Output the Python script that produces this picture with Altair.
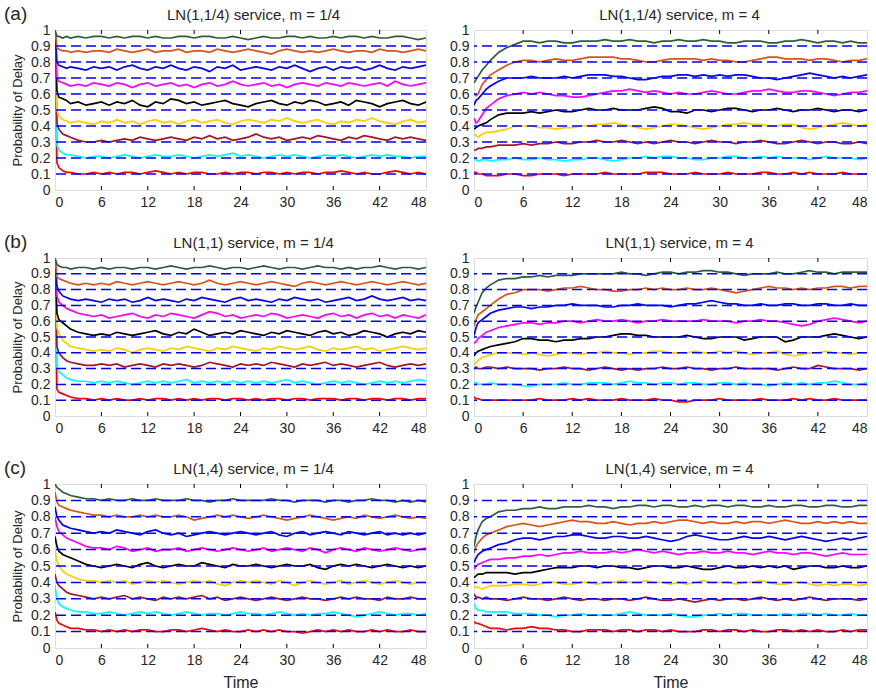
import altair as alt
import pandas as pd

# Sampling times in hours: finer near the start, hourly afterwards
TIME = [0, 0.25, 0.5, 1, 1.5, 2, 3, 4, 5] + list(range(6, 49))

# Target delay probabilities (dashed reference lines) and the colour of each trace
LEVELS = [0.1, 0.2, 0.3, 0.4, 0.5, 0.6, 0.7, 0.8, 0.9]
KEYS = ["0.1", "0.2", "0.3", "0.4", "0.5", "0.6", "0.7", "0.8", "0.9"]
COLORS = ["#FF0000", "#00FFFF", "#A2142F", "#FFCC00", "#000000",
          "#FF00FF", "#0000FF", "#D95319", "#2B5D3A"]

X_TICKS = [0, 6, 12, 18, 24, 30, 36, 42, 48]
Y_TICKS = [0, 0.1, 0.2, 0.3, 0.4, 0.5, 0.6, 0.7, 0.8, 0.9, 1]

# Simulated probability of delay (in percent) for each target level
A_LOW = {
    "0.9": [100, 96, 96, 95, 96, 95, 96, 95, 96,
            96, 95, 96, 95, 96, 96, 95, 96, 95, 95,
            96, 96, 95, 96, 96, 95, 95, 96, 95, 94,
            95, 96, 95, 95, 96, 96, 95, 96, 95, 95,
            96, 95, 96, 96, 95, 96, 95, 95, 96, 96,
            95, 94, 95],
    "0.8": [100, 89, 88, 87, 87, 86, 87, 86, 87,
            87, 86, 88, 87, 86, 87, 88, 86, 87, 87,
            88, 86, 87, 87, 86, 88, 87, 86, 87, 88,
            87, 86, 85, 87, 88, 87, 86, 87, 86, 87,
            88, 87, 86, 87, 87, 86, 88, 87, 87, 86,
            87, 88, 87],
    "0.7": [100, 80, 78, 77, 76, 77, 76, 75, 77,
            76, 77, 75, 77, 78, 76, 75, 77, 76, 78,
            76, 75, 77, 76, 74, 77, 76, 78, 75, 76,
            77, 76, 75, 77, 76, 78, 76, 74, 76, 77,
            75, 77, 76, 77, 75, 76, 78, 76, 75, 77,
            76, 77, 78],
    "0.6": [100, 70, 68, 67, 66, 65, 66, 65, 67,
            66, 65, 67, 66, 64, 66, 67, 65, 66, 67,
            65, 66, 64, 66, 67, 65, 66, 68, 66, 65,
            66, 67, 65, 66, 64, 66, 67, 66, 65, 67,
            66, 65, 67, 66, 65, 66, 67, 65, 68, 66,
            65, 66, 67],
    "0.5": [100, 62, 58, 57, 56, 54, 55, 53, 54,
            55, 53, 55, 54, 56, 53, 52, 55, 54, 57,
            56, 54, 55, 53, 54, 55, 56, 54, 53, 52,
            54, 55, 56, 54, 53, 55, 54, 56, 55, 53,
            54, 55, 53, 56, 55, 54, 52, 54, 55, 56,
            54, 53, 55],
    "0.4": [100, 50, 46, 44, 43, 42, 43, 42, 41,
            43, 42, 44, 42, 43, 41, 43, 44, 42, 43,
            41, 43, 44, 42, 43, 44, 42, 41, 43, 44,
            43, 42, 44, 43, 45, 43, 42, 43, 44, 42,
            41, 43, 42, 44, 43, 45, 43, 42, 41, 43,
            44, 42, 43],
    "0.3": [100, 42, 38, 35, 34, 33, 31, 30, 30,
            31, 30, 31, 32, 31, 33, 32, 31, 32, 33,
            32, 31, 33, 32, 34, 32, 33, 31, 32, 33,
            35, 33, 32, 33, 31, 32, 33, 32, 34, 33,
            32, 31, 33, 32, 34, 33, 32, 31, 33, 32,
            33, 32, 31],
    "0.2": [100, 28, 25, 23, 22, 22, 21, 20, 21,
            21, 20, 21, 22, 21, 20, 21, 22, 21, 21,
            22, 21, 20, 21, 22, 21, 22, 23, 21, 22,
            21, 20, 21, 22, 21, 22, 21, 20, 21, 22,
            21, 22, 21, 20, 21, 22, 21, 22, 21, 21,
            20, 21, 21],
    "0.1": [100, 17, 14, 12, 11, 11, 10, 10, 11,
            10, 11, 10, 11, 11, 10, 11, 12, 11, 10,
            11, 10, 11, 11, 10, 10, 11, 10, 11, 11,
            10, 11, 11, 10, 11, 10, 11, 11, 10, 11,
            11, 12, 11, 10, 11, 10, 10, 11, 12, 11,
            10, 11, 10],
}

A_HIGH = {
    "0.9": [67, 69, 71, 75, 78, 81, 86, 89, 91,
            93, 93, 92, 93, 93, 92, 92, 93, 93, 93,
            94, 93, 93, 94, 93, 93, 92, 93, 93, 94,
            93, 93, 94, 93, 93, 92, 92, 93, 93, 93,
            92, 92, 93, 93, 94, 93, 92, 93, 93, 92,
            93, 92, 92],
    "0.8": [60, 59, 60, 66, 69, 72, 75, 78, 80,
            81, 81, 80, 81, 82, 81, 81, 82, 83, 83,
            83, 83, 82, 82, 81, 80, 80, 81, 82, 82,
            82, 82, 81, 82, 81, 81, 80, 80, 81, 82,
            83, 83, 82, 82, 82, 81, 82, 82, 81, 80,
            81, 81, 82],
    "0.7": [53, 56, 57, 60, 63, 65, 68, 70, 70,
            70, 71, 70, 70, 70, 71, 70, 71, 72, 72,
            72, 71, 71, 70, 69, 69, 70, 71, 71, 72,
            72, 71, 72, 71, 72, 71, 72, 72, 71, 70,
            70, 69, 70, 71, 72, 73, 72, 71, 70, 71,
            70, 71, 72],
    "0.6": [45, 42, 43, 47, 51, 53, 57, 59, 60,
            61, 60, 61, 60, 59, 59, 58, 58, 59, 60,
            61, 62, 62, 63, 62, 61, 62, 61, 60, 61,
            60, 60, 61, 62, 61, 60, 60, 61, 62, 62,
            63, 62, 61, 61, 62, 62, 61, 60, 59, 60,
            61, 61, 62],
    "0.5": [38, 39, 40, 41, 42, 44, 47, 48, 48,
            48, 49, 48, 49, 50, 49, 49, 50, 51, 50,
            50, 51, 50, 50, 50, 51, 52, 51, 49, 49,
            48, 50, 50, 49, 50, 51, 51, 50, 49, 50,
            50, 51, 50, 49, 50, 50, 51, 50, 49, 50,
            50, 49, 50],
    "0.4": [35, 34, 33, 35, 36, 36, 37, 38, 40,
            40, 40, 39, 39, 38, 39, 39, 40, 40, 41,
            41, 42, 41, 40, 39, 38, 39, 40, 41, 41,
            40, 39, 38, 39, 40, 41, 41, 42, 41, 41,
            40, 40, 41, 41, 39, 38, 39, 40, 41, 42,
            41, 40, 41],
    "0.3": [25, 25, 26, 26, 27, 27, 28, 28, 28,
            29, 28, 29, 29, 30, 29, 29, 30, 30, 31,
            30, 30, 31, 30, 29, 30, 29, 30, 31, 30,
            30, 29, 30, 31, 30, 30, 29, 30, 30, 31,
            30, 29, 29, 30, 31, 30, 29, 30, 30, 29,
            29, 30, 29],
    "0.2": [19, 19, 18, 19, 19, 18, 19, 19, 20,
            19, 19, 20, 19, 19, 18, 19, 19, 20, 20,
            19, 18, 19, 20, 20, 21, 20, 21, 21, 20,
            20, 19, 19, 20, 20, 21, 21, 20, 20, 21,
            20, 21, 20, 20, 20, 19, 20, 21, 20, 20,
            20, 19, 20],
    "0.1": [11, 11, 10, 10, 9, 9, 9, 10, 10,
            9, 9, 10, 10, 10, 9, 10, 10, 10, 10,
            11, 10, 10, 10, 10, 11, 11, 11, 10, 10,
            10, 11, 10, 10, 10, 11, 10, 10, 10, 11,
            11, 10, 10, 11, 10, 11, 10, 10, 10, 11,
            10, 10, 10],
}

B_LOW = {
    "0.9": [100, 96, 95, 94, 94, 93, 94, 94, 93,
            94, 93, 94, 94, 93, 94, 94, 93, 94, 95,
            94, 93, 94, 94, 95, 94, 93, 94, 94, 93,
            94, 95, 94, 93, 94, 94, 93, 94, 95, 94,
            94, 93, 94, 93, 94, 94, 95, 94, 93, 94,
            94, 93, 94],
    "0.8": [100, 88, 87, 86, 85, 84, 83, 84, 83,
            84, 83, 85, 84, 83, 84, 85, 84, 83, 84,
            85, 84, 83, 84, 86, 84, 83, 84, 85, 84,
            83, 84, 85, 84, 83, 82, 84, 85, 84, 83,
            84, 85, 84, 83, 84, 85, 84, 83, 84, 85,
            84, 83, 84],
    "0.7": [100, 82, 79, 76, 75, 74, 73, 74, 73,
            72, 74, 73, 74, 72, 73, 75, 73, 74, 73,
            72, 74, 73, 75, 74, 73, 72, 74, 75, 73,
            74, 73, 72, 74, 73, 75, 74, 73, 74, 72,
            73, 74, 75, 73, 74, 76, 74, 73, 74, 75,
            73, 74, 73],
    "0.6": [100, 76, 72, 70, 68, 67, 65, 64, 63,
            64, 62, 63, 64, 65, 63, 62, 64, 63, 65,
            64, 63, 62, 64, 66, 65, 63, 64, 62, 63,
            64, 63, 65, 64, 62, 63, 64, 63, 62, 64,
            65, 63, 64, 62, 64, 65, 63, 64, 62, 64,
            63, 62, 64],
    "0.5": [100, 65, 61, 59, 57, 55, 53, 52, 51,
            52, 51, 53, 52, 51, 52, 53, 54, 52, 51,
            53, 52, 55, 53, 51, 52, 53, 52, 54, 53,
            52, 51, 53, 52, 54, 53, 52, 51, 53, 54,
            52, 53, 51, 52, 54, 53, 52, 50, 52, 53,
            52, 54, 53],
    "0.4": [100, 56, 52, 48, 46, 44, 43, 42, 41,
            42, 41, 43, 42, 40, 42, 43, 42, 41, 43,
            42, 44, 43, 42, 41, 43, 42, 44, 43, 42,
            41, 43, 42, 44, 43, 42, 43, 44, 42, 41,
            43, 42, 43, 44, 42, 43, 41, 42, 43, 44,
            43, 42, 43],
    "0.3": [100, 44, 40, 37, 35, 34, 33, 32, 32,
            33, 32, 33, 31, 32, 33, 32, 31, 33, 32,
            33, 32, 31, 32, 34, 33, 32, 31, 33, 32,
            33, 32, 34, 33, 32, 31, 33, 32, 33, 34,
            32, 33, 32, 31, 32, 33, 34, 32, 31, 32,
            33, 32, 33],
    "0.2": [100, 31, 28, 26, 24, 23, 22, 22, 21,
            22, 21, 22, 21, 20, 21, 22, 21, 22, 21,
            22, 23, 21, 22, 21, 22, 21, 22, 21, 22,
            21, 22, 21, 22, 23, 21, 22, 21, 20, 21,
            22, 21, 22, 21, 20, 21, 22, 21, 22, 21,
            22, 23, 22],
    "0.1": [100, 17, 15, 14, 13, 12, 11, 11, 10,
            11, 10, 11, 10, 10, 11, 10, 11, 11, 10,
            11, 10, 11, 10, 11, 11, 10, 11, 11, 10,
            11, 10, 11, 11, 10, 11, 11, 10, 11, 11,
            11, 10, 11, 11, 10, 11, 11, 10, 11, 11,
            10, 11, 11],
}

B_HIGH = {
    "0.9": [65, 69, 72, 78, 81, 83, 86, 87, 87,
            88, 88, 89, 88, 89, 89, 89, 90, 90, 90,
            90, 90, 91, 90, 90, 89, 90, 91, 91, 90,
            91, 91, 92, 92, 91, 91, 90, 89, 90, 90,
            90, 91, 90, 90, 91, 92, 91, 91, 90, 91,
            91, 91, 91],
    "0.8": [57, 61, 64, 66, 68, 70, 74, 77, 78,
            80, 80, 80, 79, 80, 81, 81, 82, 81, 80,
            80, 79, 79, 80, 80, 81, 80, 81, 80, 80,
            81, 80, 80, 81, 80, 79, 78, 79, 80, 81,
            82, 81, 81, 80, 81, 80, 81, 81, 82, 82,
            81, 82, 82],
    "0.7": [51, 56, 59, 61, 63, 65, 67, 68, 69,
            69, 68, 69, 69, 70, 70, 71, 70, 70, 70,
            69, 69, 70, 70, 71, 70, 70, 70, 69, 70,
            71, 71, 72, 73, 72, 71, 71, 70, 70, 71,
            70, 70, 71, 71, 70, 70, 71, 71, 70, 70,
            71, 70, 70],
    "0.6": [46, 47, 49, 51, 53, 54, 56, 57, 58,
            59, 59, 58, 59, 59, 60, 60, 59, 60, 61,
            60, 60, 61, 60, 59, 60, 60, 61, 60, 60,
            60, 60, 61, 60, 60, 60, 59, 60, 60, 61,
            60, 60, 59, 58, 57, 58, 60, 61, 62, 61,
            60, 59, 60],
    "0.5": [38, 40, 41, 42, 43, 44, 45, 46, 47,
            49, 49, 48, 48, 47, 48, 48, 49, 49, 50,
            50, 51, 52, 52, 51, 51, 50, 50, 50, 50,
            51, 50, 49, 49, 50, 50, 50, 48, 49, 50,
            50, 50, 47, 48, 50, 50, 50, 51, 52, 51,
            50, 49, 50],
    "0.4": [32, 34, 35, 37, 38, 39, 40, 40, 40,
            39, 40, 39, 38, 39, 40, 40, 39, 40, 40,
            41, 40, 40, 39, 40, 40, 41, 41, 40, 40,
            40, 41, 40, 40, 41, 40, 41, 40, 39, 40,
            40, 41, 39, 38, 39, 40, 40, 41, 40, 40,
            39, 40, 40],
    "0.3": [30, 31, 30, 30, 31, 31, 30, 31, 30,
            30, 30, 29, 30, 30, 31, 30, 30, 29, 30,
            31, 30, 29, 30, 29, 30, 30, 31, 30, 30,
            31, 30, 30, 29, 30, 30, 31, 30, 30, 30,
            30, 29, 30, 31, 30, 30, 32, 31, 30, 30,
            30, 29, 30],
    "0.2": [21, 21, 20, 20, 20, 21, 20, 20, 20,
            19, 19, 20, 20, 20, 21, 20, 20, 21, 21,
            21, 20, 21, 22, 21, 21, 20, 21, 21, 20,
            21, 21, 20, 20, 21, 21, 20, 21, 20, 20,
            19, 20, 21, 20, 21, 20, 21, 21, 22, 21,
            20, 20, 21],
    "0.1": [12, 11, 11, 10, 10, 10, 10, 10, 10,
            10, 10, 11, 10, 10, 10, 11, 10, 11, 10,
            10, 10, 11, 10, 10, 10, 11, 10, 10, 9,
            9, 10, 10, 10, 11, 10, 10, 10, 10, 11,
            10, 10, 10, 11, 10, 11, 10, 10, 11, 10,
            10, 10, 10],
}

C_LOW = {
    "0.9": [100, 98, 97, 95, 94, 93, 92, 91, 91,
            90, 91, 90, 90, 91, 90, 90, 91, 90, 90,
            90, 91, 90, 90, 89, 90, 90, 91, 90, 90,
            90, 90, 91, 90, 90, 89, 90, 90, 90, 89,
            90, 90, 89, 90, 90, 91, 90, 90, 89, 90,
            89, 90, 89],
    "0.8": [95, 89, 87, 86, 85, 84, 83, 82, 81,
            81, 80, 81, 80, 80, 81, 80, 81, 80, 80,
            81, 80, 78, 79, 80, 81, 80, 81, 80, 79,
            80, 81, 80, 79, 78, 79, 80, 81, 80, 79,
            78, 79, 80, 79, 81, 80, 79, 80, 81, 80,
            79, 80, 79],
    "0.7": [86, 80, 78, 75, 74, 73, 72, 71, 70,
            71, 70, 72, 71, 70, 69, 71, 72, 70, 69,
            70, 68, 69, 70, 71, 70, 69, 70, 71, 70,
            69, 70, 71, 69, 68, 70, 71, 69, 70, 71,
            70, 69, 71, 70, 69, 70, 71, 69, 70, 69,
            70, 69, 70],
    "0.6": [80, 74, 71, 69, 67, 66, 64, 62, 61,
            61, 60, 62, 61, 59, 60, 61, 59, 60, 60,
            61, 59, 60, 61, 60, 59, 60, 61, 60, 59,
            60, 61, 59, 60, 61, 60, 59, 61, 60, 58,
            60, 61, 60, 59, 61, 60, 59, 60, 61, 60,
            59, 60, 61],
    "0.5": [68, 62, 59, 57, 56, 55, 53, 51, 50,
            49, 50, 51, 50, 49, 51, 52, 50, 49, 50,
            51, 50, 50, 52, 51, 50, 49, 51, 50, 50,
            51, 50, 49, 50, 51, 50, 50, 51, 49, 48,
            50, 51, 50, 51, 50, 49, 50, 51, 50, 49,
            50, 49, 50],
    "0.4": [60, 53, 50, 47, 45, 44, 42, 41, 41,
            40, 41, 40, 41, 39, 40, 41, 40, 41, 40,
            39, 40, 41, 40, 41, 39, 38, 40, 41, 40,
            41, 40, 39, 41, 40, 38, 40, 41, 40, 39,
            40, 41, 39, 40, 41, 40, 39, 40, 41, 40,
            39, 40, 40],
    "0.3": [45, 40, 38, 36, 34, 33, 32, 31, 30,
            31, 30, 31, 32, 30, 31, 30, 29, 31, 30,
            31, 30, 31, 32, 30, 31, 29, 30, 31, 30,
            29, 30, 31, 30, 29, 30, 31, 30, 30, 29,
            30, 31, 30, 31, 30, 30, 29, 31, 30, 30,
            31, 30, 30],
    "0.2": [38, 30, 27, 25, 24, 23, 22, 22, 21,
            21, 22, 21, 20, 21, 22, 21, 22, 21, 20,
            21, 22, 21, 20, 21, 21, 20, 21, 22, 21,
            21, 20, 21, 22, 21, 20, 21, 20, 21, 21,
            22, 21, 20, 19, 20, 21, 22, 21, 20, 21,
            21, 20, 21],
    "0.1": [22, 17, 15, 14, 13, 12, 12, 11, 11,
            10, 11, 10, 11, 10, 11, 11, 10, 10, 11,
            11, 10, 11, 12, 11, 10, 11, 10, 10, 11,
            10, 11, 10, 11, 10, 10, 9, 10, 11, 10,
            11, 10, 11, 10, 10, 11, 10, 11, 10, 10,
            11, 10, 10],
}

C_HIGH = {
    "0.9": [62, 68, 72, 77, 79, 80, 83, 84, 84,
            85, 85, 86, 85, 85, 86, 86, 86, 87, 86,
            86, 85, 86, 86, 87, 87, 86, 87, 87, 86,
            86, 87, 86, 87, 87, 86, 87, 87, 86, 86,
            87, 86, 86, 87, 87, 86, 86, 87, 87, 86,
            86, 87, 87],
    "0.8": [58, 62, 64, 67, 69, 70, 72, 74, 75,
            76, 75, 74, 75, 76, 77, 78, 77, 77, 76,
            76, 77, 76, 75, 76, 76, 77, 76, 77, 78,
            78, 77, 76, 77, 76, 76, 77, 76, 77, 77,
            76, 77, 78, 77, 76, 76, 77, 76, 77, 76,
            77, 76, 76],
    "0.7": [52, 55, 57, 59, 60, 61, 63, 64, 66,
            67, 67, 66, 67, 68, 68, 69, 69, 68, 67,
            67, 68, 68, 67, 67, 68, 67, 66, 65, 66,
            68, 69, 68, 67, 66, 66, 67, 68, 67, 67,
            68, 67, 66, 67, 68, 67, 66, 65, 66, 67,
            66, 67, 68],
    "0.6": [48, 50, 51, 52, 53, 54, 54, 55, 55,
            56, 56, 57, 56, 57, 58, 58, 59, 58, 58,
            58, 59, 58, 59, 60, 59, 58, 59, 58, 57,
            58, 58, 59, 58, 58, 59, 58, 58, 57, 58,
            59, 58, 58, 57, 58, 58, 57, 56, 57, 58,
            57, 57, 57],
    "0.5": [43, 44, 45, 45, 46, 46, 46, 46, 45,
            46, 46, 47, 48, 49, 49, 49, 50, 50, 49,
            50, 50, 49, 49, 48, 49, 50, 50, 49, 49,
            50, 49, 48, 48, 49, 50, 49, 49, 50, 49,
            50, 49, 50, 48, 49, 50, 50, 49, 49, 50,
            49, 49, 50],
    "0.4": [38, 37, 37, 36, 37, 38, 38, 38, 39,
            39, 38, 39, 40, 40, 39, 39, 40, 40, 39,
            40, 40, 41, 40, 40, 41, 40, 40, 39, 40,
            39, 40, 41, 40, 40, 40, 39, 40, 40, 41,
            40, 39, 39, 40, 40, 39, 38, 39, 38, 39,
            39, 38, 39],
    "0.3": [33, 31, 31, 30, 31, 30, 30, 29, 30,
            31, 30, 30, 29, 30, 31, 30, 29, 30, 30,
            29, 30, 30, 29, 30, 31, 30, 29, 29, 30,
            29, 28, 29, 30, 29, 30, 30, 29, 30, 31,
            30, 29, 30, 29, 30, 31, 30, 29, 30, 30,
            30, 29, 30],
    "0.2": [27, 24, 23, 23, 22, 22, 22, 22, 21,
            21, 21, 20, 20, 19, 20, 20, 21, 20, 20,
            20, 20, 21, 22, 21, 20, 20, 20, 21, 20,
            19, 19, 20, 20, 21, 20, 21, 21, 20, 20,
            20, 20, 21, 20, 21, 21, 20, 21, 20, 20,
            21, 20, 20],
    "0.1": [16, 15, 15, 14, 13, 12, 12, 11, 12,
            12, 13, 12, 12, 11, 11, 10, 10, 11, 11,
            11, 10, 11, 11, 10, 11, 11, 10, 11, 10,
            10, 10, 11, 11, 10, 11, 11, 10, 11, 10,
            10, 11, 11, 10, 11, 10, 11, 10, 10, 11,
            10, 11, 11],
}

FONT = "Liberation Sans"
TEXT = "#262626"
TICK_LEN = 0.025  # inward tick length, as a fraction of the y range


def traces(series):
    rows = []
    for key in KEYS:
        vals = series[key]
        assert len(vals) == len(TIME), (key, len(vals))
        for t, v in zip(TIME, vals):
            rows.append({"level": key, "t": t, "p": v / 100})
    return pd.DataFrame(rows)


def panel(series, title, width, height, tag=None, left=False, bottom=False, dx=10):
    x_axis = alt.Axis(values=X_TICKS, ticks=False, domain=False, grid=False,
                      labelFontSize=14, labelPadding=5, labelFont=FONT,
                      labelColor=TEXT, labelOverlap=False,
                      title="Time" if bottom else None,
                      titleFontSize=16, titleFont=FONT, titleFontWeight="normal",
                      titleColor=TEXT, titlePadding=7)
    y_axis = alt.Axis(values=Y_TICKS, format="~g", ticks=False, domain=False,
                      grid=False, labelFontSize=14, labelPadding=5,
                      labelFont=FONT, labelColor=TEXT, labelOverlap=False,
                      labelBound=False,
                      title="Probability of Delay" if left else None,
                      titleFontSize=13, titleFont=FONT,
                      titleFontWeight="normal", titleColor=TEXT,
                      titlePadding=6)
    xs = alt.Scale(domain=[0, 48], nice=False, zero=False)
    ys = alt.Scale(domain=[0, 1], nice=False)

    def X(field):
        return alt.X(field, scale=xs, axis=x_axis)

    def Y(field):
        return alt.Y(field, scale=ys, axis=y_axis)

    lines = alt.Chart(traces(series)).mark_line(strokeWidth=1.7, clip=True).encode(
        x=X("t:Q"),
        y=Y("p:Q"),
        color=alt.Color("level:N", scale=alt.Scale(domain=KEYS, range=COLORS),
                        legend=None),
    )

    refs = alt.Chart(pd.DataFrame({"y": LEVELS})).mark_rule(
        color="#0000FF", strokeDash=[10, 5], strokeWidth=1.5
    ).encode(y=Y("y:Q"))

    inner = X_TICKS[1:-1]
    tick_df = pd.DataFrame({
        "x": inner * 2,
        "y0": [0.0] * len(inner) + [1.0 - TICK_LEN] * len(inner),
        "y1": [TICK_LEN] * len(inner) + [1.0] * len(inner),
    })
    ticks = alt.Chart(tick_df).mark_rule(color="black", strokeWidth=1).encode(
        x=X("x:Q"), y=Y("y0:Q"), y2="y1:Q")

    title_mark = alt.Chart(pd.DataFrame({"text": [title]})).mark_text(
        font=FONT, fontSize=15, align="center", baseline="middle", color=TEXT
    ).encode(text="text:N", x=alt.value(width / 2 + dx), y=alt.value(-15))

    layers = [lines, refs, ticks, title_mark]
    if tag:
        tag_mark = alt.Chart(pd.DataFrame({"text": [tag]})).mark_text(
            font=FONT, fontSize=19, align="left", baseline="middle", color=TEXT
        ).encode(text="text:N", x=alt.value(-51), y=alt.value(-16))
        layers.append(tag_mark)

    return alt.layer(*layers).properties(width=width, height=height)


LW, RW = 371, 393
rows = [
    (A_LOW, A_HIGH, "LN(1,1/4) service, m = 1/4", "LN(1,1/4) service, m = 4", "(a)", 160, False),
    (B_LOW, B_HIGH, "LN(1,1) service, m = 1/4", "LN(1,1) service, m = 4", "(b)", 158, False),
    (C_LOW, C_HIGH, "LN(1,4) service, m = 1/4", "LN(1,4) service, m = 4", "(c)", 164, True),
]

chart_rows = []
for low, high, t_low, t_high, tag, h, bottom in rows:
    chart_rows.append(alt.hconcat(
        panel(low, t_low, LW, h, tag=tag, left=True, bottom=bottom, dx=13),
        panel(high, t_high, RW, h, bottom=bottom, dx=9),
        spacing=48, bounds="flush",
    ))

chart = alt.vconcat(*chart_rows, spacing=22).configure_view(
    stroke="black", strokeWidth=1
).configure(padding={"left": 3, "top": 4, "right": 5, "bottom": 2}, background="white")

chart.save("out.html", embed_options={"renderer": "svg", "actions": False})
